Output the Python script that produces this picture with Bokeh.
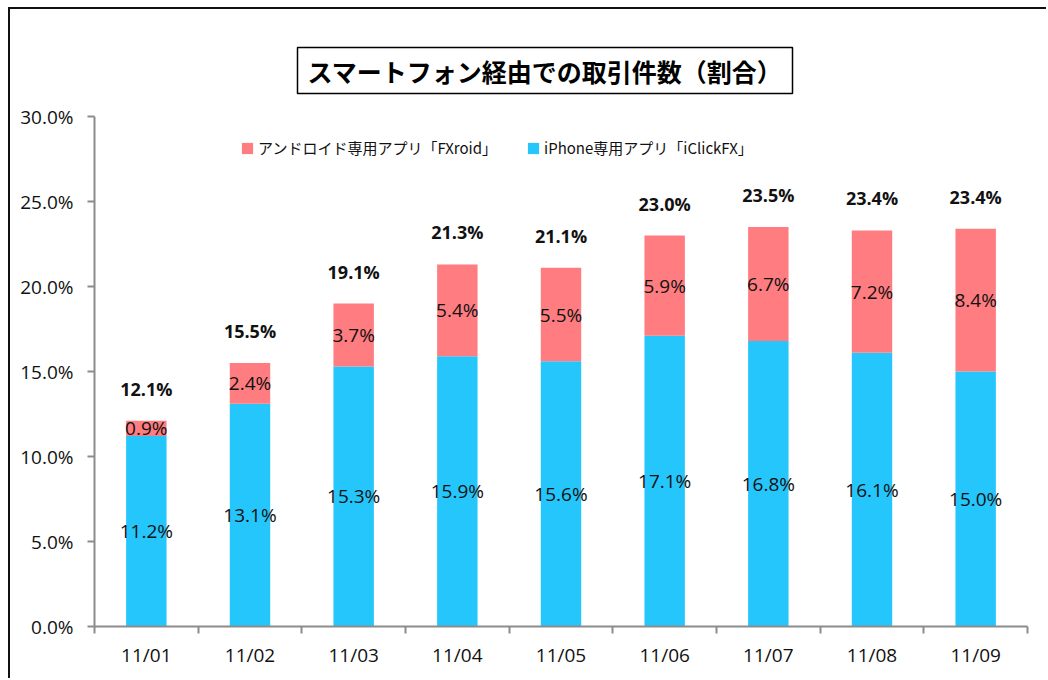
from bokeh.plotting import figure
from bokeh.models import (Range1d, FixedTicker, NumeralTickFormatter, Legend, LegendItem,
                          ColumnDataSource)
from bokeh.core.properties import value
from bokeh.embed import file_html
from bokeh.resources import INLINE

# ---- data ----
dates = ["11/01", "11/02", "11/03", "11/04", "11/05", "11/06", "11/07", "11/08", "11/09"]
iphone = [11.2, 13.1, 15.3, 15.9, 15.6, 17.1, 16.8, 16.1, 15.0]
android = [0.9, 2.4, 3.7, 5.4, 5.5, 5.9, 6.7, 7.2, 8.4]
totals = [12.1, 15.5, 19.1, 21.3, 21.1, 23.0, 23.5, 23.4, 23.4]
y_ticks = [0.0, 0.05, 0.10, 0.15, 0.20, 0.25, 0.30]
title_text = "スマートフォン経由での取引件数（割合）"
legend_android = "アンドロイド専用アプリ「FXroid」"
legend_iphone = "iPhone専用アプリ「iClickFX」"

BLUE = "#25C6FB"
PINK = "#FF7C80"
NUM_FONT = "Open Sans"
JP_FONT = "Noto Sans CJK JP"

xs = [i + 0.5 for i in range(len(dates))]
ip = [v / 100 for v in iphone]
an = [v / 100 for v in android]
src = ColumnDataSource(dict(
    x=xs, iphone=ip, android=an,
    ip_mid=[v / 2 for v in ip],
    an_mid=[a + b / 2 for a, b in zip(ip, an)],
    top=[a + b for a, b in zip(ip, an)],
    ip_lab=[f"{v:.1f}%" for v in iphone],
    an_lab=[f"{v:.1f}%" for v in android],
    tot_lab=[f"{v:.1f}%" for v in totals],
))

p = figure(width=1038, height=671, output_backend="svg", toolbar_location=None,
           x_range=Range1d(0, len(dates)), y_range=Range1d(0, 0.30),
           min_border_left=84, min_border_right=21, min_border_top=107, min_border_bottom=54,
           title=title_text)
p.margin = (7, 0, 0, 8)
p.styles = {"border-top": "2px solid #111111", "border-left": "2px solid #111111"}
p.outline_line_color = None
p.xgrid.grid_line_color = None
p.ygrid.grid_line_color = None
p.background_fill_color = "white"
p.border_fill_color = "white"

t = p.title
t.align = "left"
t.offset = 203
t.standoff = 46
t.text_font = JP_FONT
t.text_font_size = "25px"
t.text_font_style = "bold"
t.text_color = "#000000"
t.border_line_color = "#000000"
t.border_line_width = 1.5
t.padding = (10, 5)

rs = p.vbar_stack(["iphone", "android"], x="x", width=0.39, source=src,
                  color=[BLUE, PINK], line_color=None)

p.text(x="x", y="ip_mid", text="ip_lab", source=src, text_align="center", text_baseline="middle",
       text_font=value(NUM_FONT), text_font_size="19px", text_color="#111111")
p.text(x="x", y="an_mid", text="an_lab", source=src, text_align="center", text_baseline="middle",
       text_font=value(NUM_FONT), text_font_size="19px", text_color="#111111")
p.text(x="x", y="top", text="tot_lab", source=src, text_align="center", text_baseline="middle",
       y_offset=-32, text_font=value(NUM_FONT), text_font_size="18px", text_font_style="bold",
       text_color="#111111")

# axes
AX = "#8C8C8C"
xa = p.xaxis[0]
xa.ticker = FixedTicker(ticks=xs, minor_ticks=list(range(len(dates) + 1)))
xa.major_label_overrides = {x: d for x, d in zip(xs, dates)}
xa.major_tick_line_color = None
xa.minor_tick_in = 0
xa.minor_tick_out = 7
xa.minor_tick_line_color = AX
xa.minor_tick_line_width = 2
xa.axis_line_color = AX
xa.axis_line_width = 2
xa.major_label_text_font = NUM_FONT
xa.major_label_text_font_size = "19px"
xa.major_label_text_color = "#111111"
xa.major_label_standoff = 8

ya = p.yaxis[0]
ya.ticker = FixedTicker(ticks=y_ticks)
ya.formatter = NumeralTickFormatter(format="0.0%")
ya.major_tick_in = 0
ya.major_tick_out = 7
ya.major_tick_line_color = AX
ya.major_tick_line_width = 2
ya.minor_tick_line_color = None
ya.axis_line_color = AX
ya.axis_line_width = 2
ya.major_label_text_font = NUM_FONT
ya.major_label_text_font_size = "19px"
ya.major_label_text_color = "#111111"
ya.major_label_standoff = 14

legend = Legend(items=[LegendItem(label=legend_android, renderers=[rs[1]]),
                       LegendItem(label=legend_iphone, renderers=[rs[0]])],
                location=(146, 468), orientation="horizontal",
                background_fill_alpha=0, border_line_color=None, padding=0, margin=0,
                glyph_width=14, glyph_height=14, label_standoff=4, spacing=29,
                label_text_font=JP_FONT, label_text_font_size="15px", label_text_color="#111111")
p.add_layout(legend, "center")

open("out.html", "w").write(file_html(p, INLINE))
